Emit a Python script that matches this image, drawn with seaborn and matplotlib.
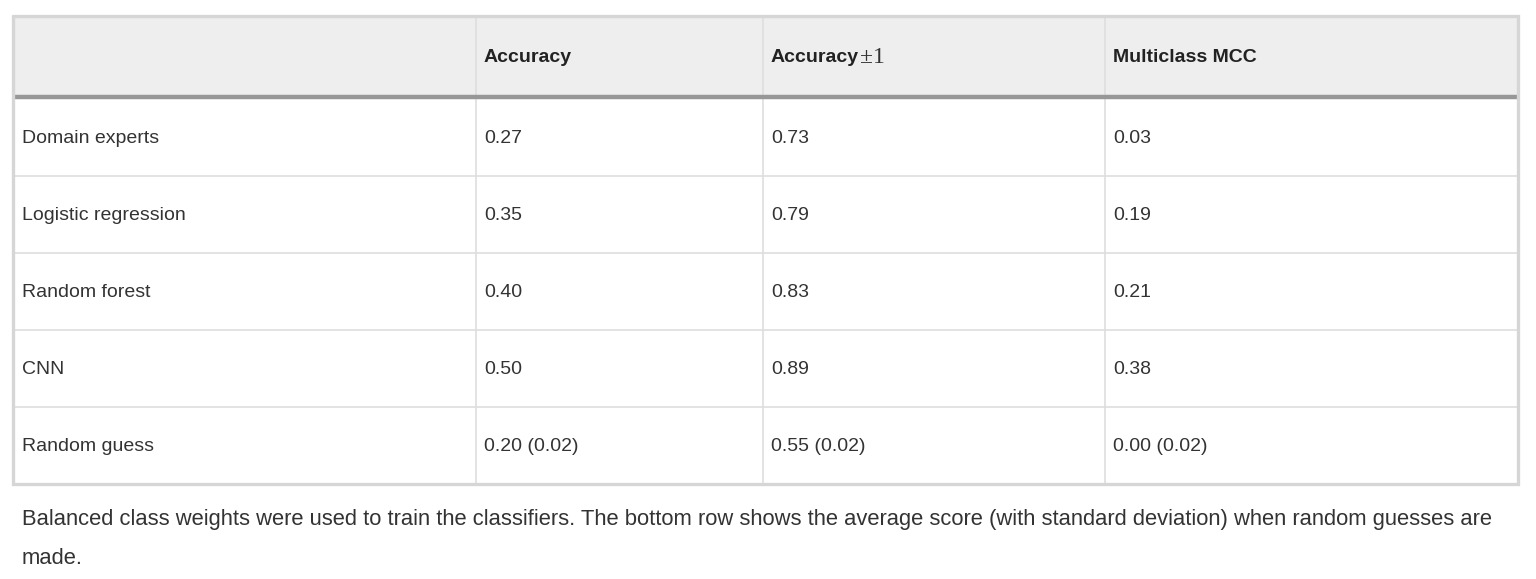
import numpy as np
import pandas as pd
import matplotlib.pyplot as plt
import seaborn as sns

# table contents
methods = ["Domain experts", "Logistic regression", "Random forest", "CNN", "Random guess"]
accuracy = [0.27, 0.35, 0.40, 0.50, 0.20]
accuracy_pm1 = [0.73, 0.79, 0.83, 0.89, 0.55]
multiclass_mcc = [0.03, 0.19, 0.21, 0.38, 0.00]
random_std = [0.02, 0.02, 0.02]
columns = ["Accuracy", "Accuracy", "Multiclass MCC"]
caption_lines = ["Balanced class weights were used to train the classifiers. The bottom row shows the average score (with standard deviation) when random guesses are",
                 "made."]

df = pd.DataFrame({"Method": methods, "Accuracy": accuracy,
                   "AccuracyPM1": accuracy_pm1, "MCC": multiclass_mcc})

sns.set_theme(style="white")
plt.rcParams['font.family'] = ['Liberation Sans', 'DejaVu Sans']

fig = plt.figure(figsize=(15.36, 5.79), dpi=100)
ax = fig.add_axes([0, 0, 1, 1])
ax.set_xlim(0, 1536)
ax.set_ylim(579, 0)
ax.axis('off')

# layout in pixels
left, right = 13, 1518
top, head_bottom = 16, 97
body_top = 99
row_h = 77
col_x = [left, 476, 763, 1105, right]
bottom = body_top + row_h * len(df)
text_col = "#333333"

# header background + thick rule
ax.fill_between([left, right], top, head_bottom, color="#eeeeee", zorder=0)
ax.hlines(head_bottom, left, right, color="#979797", lw=3.2, zorder=3)

# grid lines
for i in range(1, len(df)):
    ax.hlines(body_top + row_h * i, left, right, color="#dedede", lw=1.2, zorder=1)
for x in col_x[1:-1]:
    ax.vlines(x, top, bottom, color="#dedede", lw=1.2, zorder=1)

# outer border
ax.plot([left, right, right, left, left], [top, top, bottom, bottom, top],
        color="#d6d6d6", lw=2.4, zorder=4, solid_joinstyle='miter')

# header text
head_y = (top + head_bottom) / 2 + 1
fs = 14.0
for j, name in enumerate(columns):
    t = ax.text(col_x[j + 1] + 8, head_y, name, fontsize=fs, fontweight='bold',
                color="#222222", va='center', ha='left')
    if j == 1:
        fig.canvas.draw()
        bb = t.get_window_extent().transformed(ax.transData.inverted())
        ax.text(bb.x1 + 1, head_y, "\u00b11", fontsize=17, family=['Liberation Serif'],
                color="#333333", va='center', ha='left')

# body text
for i, row in df.iterrows():
    y = body_top + row_h * i + row_h / 2 + 1
    vals = [row["Accuracy"], row["AccuracyPM1"], row["MCC"]]
    ax.text(col_x[0] + 9, y, row["Method"], fontsize=fs, color=text_col, va='center')
    for j, v in enumerate(vals):
        s = f"{v:.2f}"
        if row["Method"] == "Random guess":
            s += f" ({random_std[j]:.2f})"
        ax.text(col_x[j + 1] + 8, y, s, fontsize=fs, color=text_col, va='center')

# caption
ax.text(22, 525, caption_lines[0], fontsize=15.8, color=text_col, va='baseline')
ax.text(22, 564, caption_lines[1], fontsize=15.8, color=text_col, va='baseline')

fig.savefig("out.png", dpi=100, facecolor="white")
